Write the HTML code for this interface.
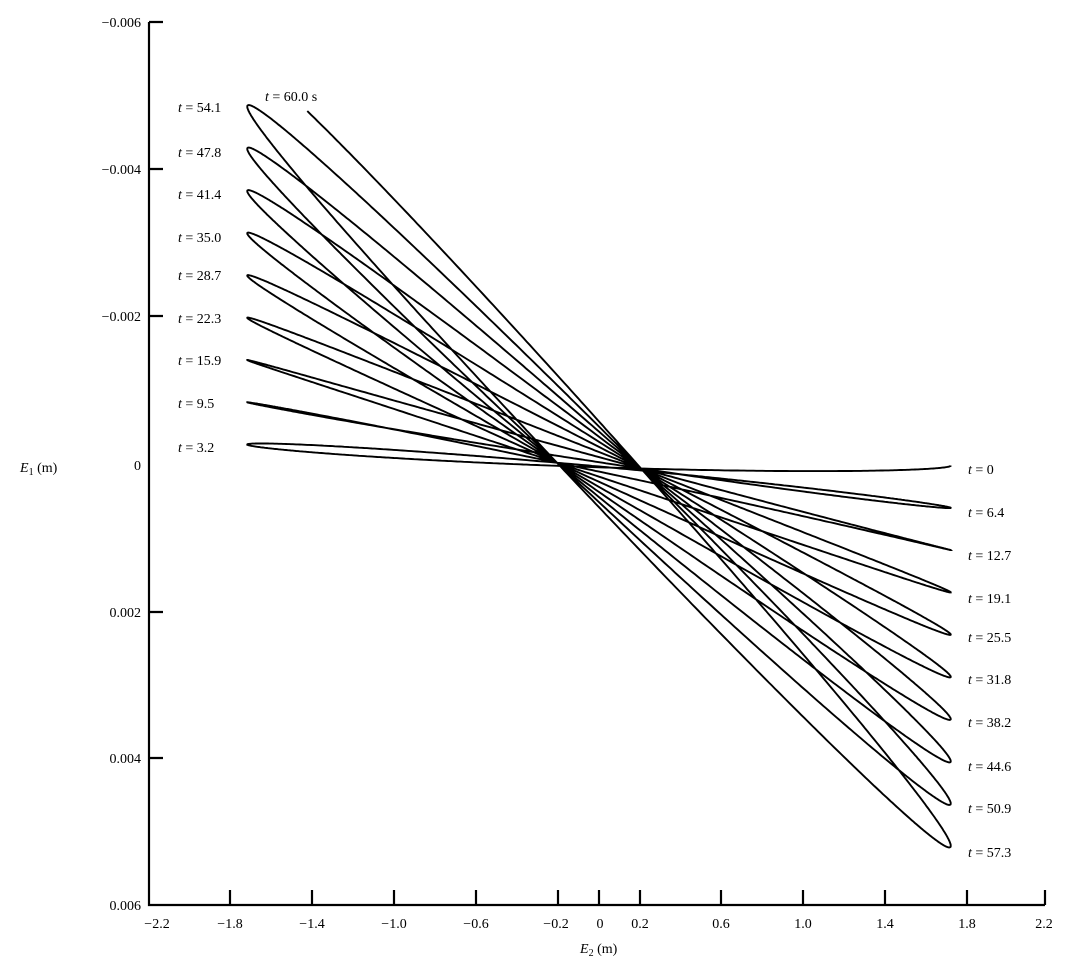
<!DOCTYPE html>
<html><head><style>
html,body{margin:0;padding:0;background:#fff;}
svg text{font-family:"Liberation Serif",serif;font-size:14px;fill:#000;}
</style></head><body>
<svg id="s" width="1065" height="963" viewBox="0 0 1065 963" xmlns="http://www.w3.org/2000/svg">
<g stroke="#000" stroke-width="2.2" fill="none">
<path d="M149 22 V905 H1045"/>
<path d="M149 22 H163 M149 169 H163 M149 316 H163 M149 612 H163 M149 758 H163"/>
<path d="M230 905 V890 M312 905 V890 M394 905 V890 M476 905 V890 M558 905 V890 M599 905 V890 M640 905 V890 M721 905 V890 M803 905 V890 M885 905 V890 M967 905 V890 M1045 905 V890"/>
</g>
<path id="c" stroke="#000" stroke-width="1.9" fill="none" d=""/>
<g text-anchor="end">
<text x="141" y="27">−0.006</text>
<text x="141" y="174">−0.004</text>
<text x="141" y="321">−0.002</text>
<text x="141" y="470">0</text>
<text x="141" y="617">0.002</text>
<text x="141" y="763">0.004</text>
<text x="141" y="910">0.006</text>
</g>
<g text-anchor="middle">
<text x="157" y="928">−2.2</text><text x="230" y="928">−1.8</text><text x="312" y="928">−1.4</text>
<text x="394" y="928">−1.0</text><text x="476" y="928">−0.6</text><text x="556" y="928">−0.2</text>
<text x="600" y="928">0</text><text x="640" y="928">0.2</text><text x="721" y="928">0.6</text>
<text x="803" y="928">1.0</text><text x="885" y="928">1.4</text><text x="967" y="928">1.8</text>
<text x="1044" y="928">2.2</text>
</g>
<text x="580" y="953"><tspan font-style="italic">E</tspan><tspan font-size="10" dy="3">2</tspan><tspan dy="-3"> (m)</tspan></text>
<text x="20" y="472"><tspan font-style="italic">E</tspan><tspan font-size="10" dy="3">1</tspan><tspan dy="-3"> (m)</tspan></text>
<g>
<text x="265" y="101"><tspan font-style="italic">t</tspan> = 60.0 s</text>
<text x="178" y="112"><tspan font-style="italic">t</tspan> = 54.1</text>
<text x="178" y="157"><tspan font-style="italic">t</tspan> = 47.8</text>
<text x="178" y="199"><tspan font-style="italic">t</tspan> = 41.4</text>
<text x="178" y="242"><tspan font-style="italic">t</tspan> = 35.0</text>
<text x="178" y="280"><tspan font-style="italic">t</tspan> = 28.7</text>
<text x="178" y="323"><tspan font-style="italic">t</tspan> = 22.3</text>
<text x="178" y="365"><tspan font-style="italic">t</tspan> = 15.9</text>
<text x="178" y="408"><tspan font-style="italic">t</tspan> = 9.5</text>
<text x="178" y="452"><tspan font-style="italic">t</tspan> = 3.2</text>
<text x="968" y="474"><tspan font-style="italic">t</tspan> = 0</text>
<text x="968" y="517"><tspan font-style="italic">t</tspan> = 6.4</text>
<text x="968" y="560"><tspan font-style="italic">t</tspan> = 12.7</text>
<text x="968" y="603"><tspan font-style="italic">t</tspan> = 19.1</text>
<text x="968" y="642"><tspan font-style="italic">t</tspan> = 25.5</text>
<text x="968" y="684"><tspan font-style="italic">t</tspan> = 31.8</text>
<text x="968" y="727"><tspan font-style="italic">t</tspan> = 38.2</text>
<text x="968" y="771"><tspan font-style="italic">t</tspan> = 44.6</text>
<text x="968" y="813"><tspan font-style="italic">t</tspan> = 50.9</text>
<text x="968" y="857"><tspan font-style="italic">t</tspan> = 57.3</text>
</g>
</svg>
<script>
(function(){
var w=2*Math.PI/6.36, d="", phi=0.12;
for(var i=0;i<=6100;i++){
 var t=i*0.01;
 var e2=1.72*Math.cos(w*t);
 var e1=0.0000085+9.1e-5*t*Math.cos(w*t+phi)+0.00004*Math.sin(w*t);
 var x=599+e2*204.5, y=465+e1*73500;
 if(t>59 && (x<268 || y<110)) break;
 d+=(i?"L":"M")+x.toFixed(1)+" "+y.toFixed(1);
}
document.getElementById("c").setAttribute("d",d);
})();
</script>
</body></html>
